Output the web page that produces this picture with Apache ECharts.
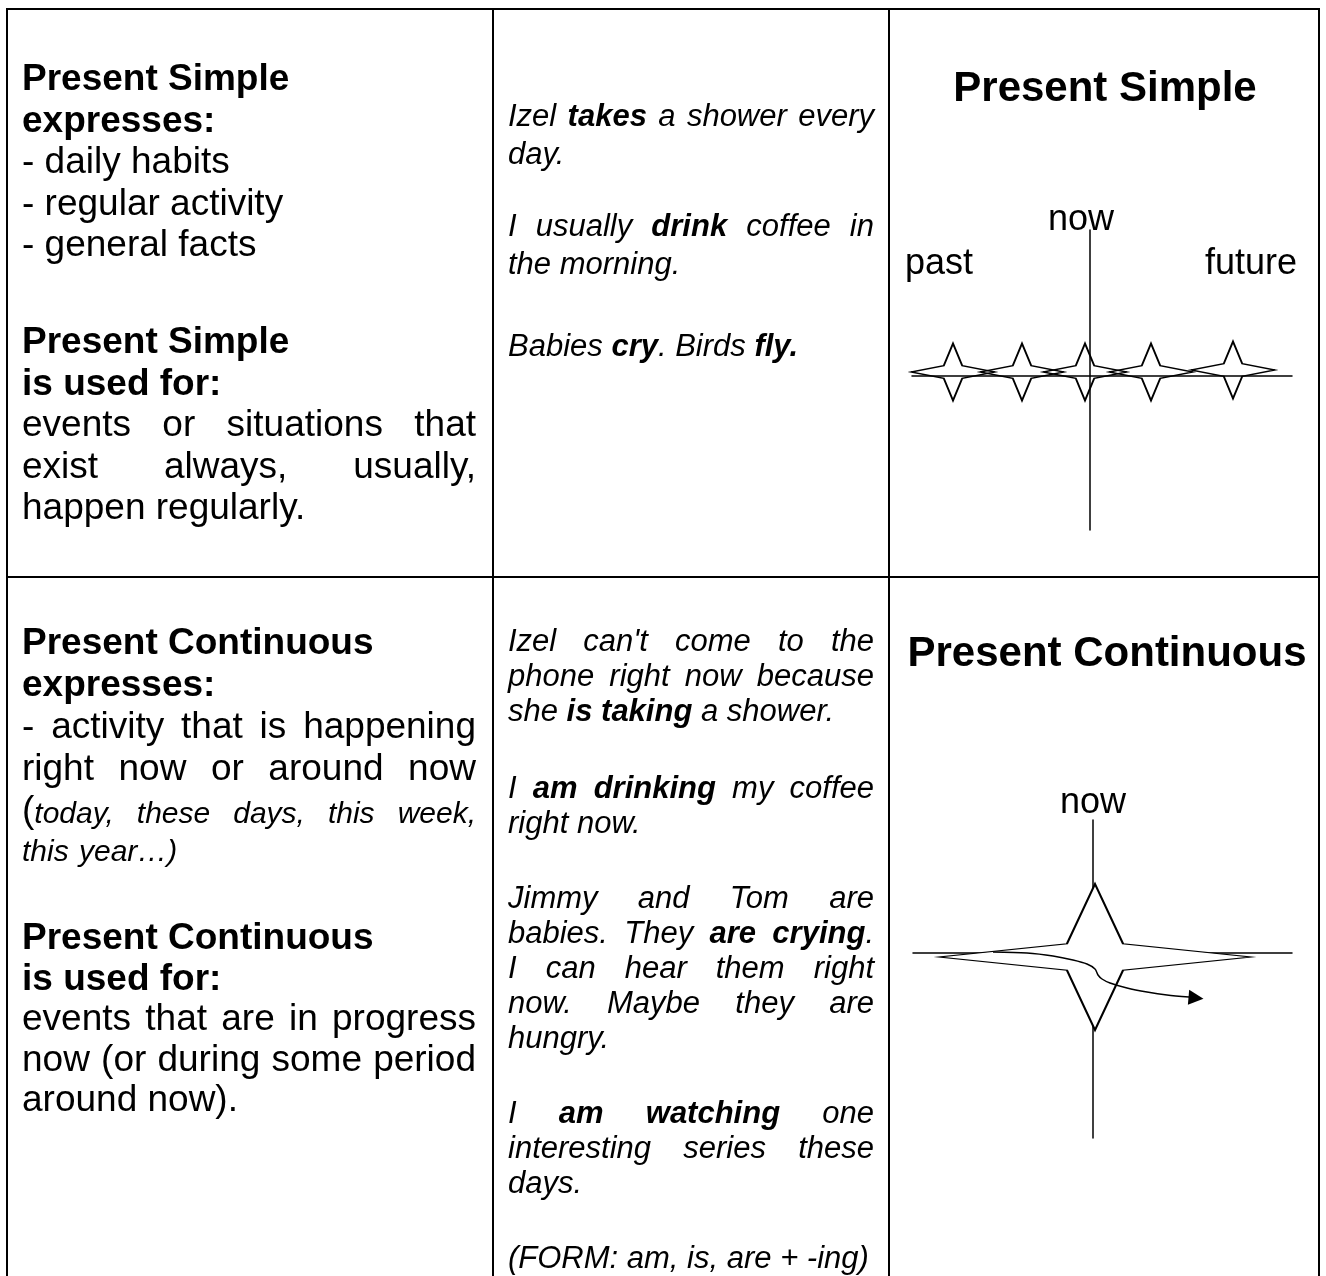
<!DOCTYPE html>
<html>
<head>
<meta charset="utf-8">
<script src="https://cdn.jsdelivr.net/npm/echarts@6/dist/echarts.min.js"></script>
<style>
  html, body { margin: 0; padding: 0; background: #fff; }
  #main { width: 1326px; height: 1276px; }
</style>
</head>
<body>
<div id="main"></div>
<script>
// cell texts: '*' toggles bold, '_' toggles italic, null starts a new block
var simpleNotes = [
  ['*Present Simple*'], ['*expresses:*'],
  ['- daily habits'], ['- regular activity'], ['- general facts'],
  null,
  ['*Present Simple*'], ['*is used for:*'],
  ['events or situations that', 'exist always, usually,', 'happen regularly.']
]
var continuousNotes = [
  ['*Present Continuous*'], ['*expresses:*'],
  ['- activity that is happening', 'right now or around now', '(_today, these days, this week,_', '_this year\u2026)_'],
  null,
  ['*Present Continuous*'], ['*is used for:*'],
  ['events that are in progress', 'now (or during some period', 'around now).']
]
var simpleExamples = [
  ['Izel *takes* a shower every', 'day.'],
  null,
  ['I usually *drink* coffee in', 'the morning.'],
  null,
  ['Babies *cry*. Birds *fly.*']
]
var continuousExamples = [
  ["Izel can't come to the", 'phone right now because', 'she *is taking* a shower.'],
  null,
  ['I *am drinking* my coffee', 'right now.'],
  null,
  ['Jimmy and Tom are', 'babies. They *are crying*.', 'I can hear them right', 'now. Maybe they are', 'hungry.'],
  null,
  ['I *am watching* one', 'interesting series these', 'days.'],
  null,
  ['(FORM: am, is, are + -ing)']
]
var cellTitles = ['Present Simple', 'Present Continuous']

// timeline diagrams, values relative to "now"
var simpleStarX = [-137, -68, -5, 61, 143]
var simpleStarY = [4, 4, 4, 4, 6]
var simpleLabelNames = ['past', 'now', 'future']
var simpleLabelX = [-151, -9, 161]
var simpleLabelY = [112, 156, 112]

var continuousStarX = [2]
var continuousStarY = [-4]
var continuousLabelNames = ['now']
var continuousLabelX = [0]
var continuousLabelY = [150]
var arrowX = [-100, -66, -40, -20, -6, 2, 5, 9, 17, 34, 54, 74, 96]
var arrowY = [1, 0, -3, -7, -11, -16, -22, -26, -30, -35, -39, -42, -44]
var arrowHeadX = [103]
var arrowHeadY = [-45]

var FONT = '"Liberation Sans", Arial, sans-serif'
var SMALL_STAR = 'path://M0,-100L22,-22L100,0L22,22L0,100L-22,22L-100,0L-22,-22Z'
var BIG_STAR = 'path://M0,-100L18,-18L100,0L18,18L0,100L-18,18L-100,0L-18,-18Z'
var ctx = document.createElement('canvas').getContext('2d')

function measure(t, f) {
  ctx.font = f.style + ' ' + f.weight + ' ' + f.size + 'px ' + FONT
  return ctx.measureText(t).width
}

function parseLine(line, italic) {
  var segs = [], b = false, i = italic, cur = ''
  for (var k = 0; k < line.length; k++) {
    var ch = line[k]
    if (ch === '*' || ch === '_') {
      if (cur) segs.push({ t: cur, b: b, i: i })
      cur = ''
      if (ch === '*') b = !b
      else i = !i
    } else cur += ch
  }
  if (cur) segs.push({ t: cur, b: b, i: i })
  return segs
}

function toWords(segs) {
  var words = [[]]
  segs.forEach(function (s) {
    s.t.split(' ').forEach(function (part, k) {
      if (k > 0) words.push([])
      if (part) words[words.length - 1].push({ t: part, b: s.b, i: s.i })
    })
  })
  return words.filter(function (w) { return w.length })
}

// lays out one table cell, justifying every line of a paragraph but its last
function textCell(paras, cfg) {
  var out = [], group = 0, y = 0, first = true
  var space = measure(' ', { size: cfg.size, style: cfg.italic ? 'italic' : 'normal', weight: 'normal' })

  paras.forEach(function (p) {
    if (p === null) { group++; first = true; return }
    p.forEach(function (line, li) {
      var words = toWords(parseLine(line, cfg.italic))
      var maxSize = 0, total = 0
      words.forEach(function (w) {
        w.forEach(function (s) {
          s.f = {
            size: (s.i && !cfg.italic) ? cfg.italicSize : cfg.size,
            style: s.i ? 'italic' : 'normal',
            weight: s.b ? 'bold' : 'normal'
          }
          s.w = measure(s.t, s.f)
          maxSize = Math.max(maxSize, s.f.size)
          total += s.w
        })
      })
      var step = Array.isArray(cfg.step) ? cfg.step[group] : cfg.step
      if (first) y = cfg.starts[group]
      else y += maxSize < cfg.size ? cfg.italicStep : step
      first = false

      var gap = space
      if (li < p.length - 1 && words.length > 1)
        gap = (cfg.width - total) / (words.length - 1)

      var x = cfg.x
      words.forEach(function (w) {
        w.forEach(function (s) {
          out.push({
            type: 'text', x: x, y: y - 0.3465 * s.f.size, silent: true,
            style: {
              text: s.t, fill: '#000', fontSize: s.f.size, fontStyle: s.f.style,
              fontWeight: s.f.weight, fontFamily: FONT, align: 'left', verticalAlign: 'middle'
            }
          })
          x += s.w
        })
        x += gap
      })
    })
  })
  return out
}

function tableLines() {
  var colX = [7, 493, 889, 1319], rowY = [9, 577]
  var out = []
  colX.forEach(function (x) {
    out.push({ type: 'line', silent: true, shape: { x1: x, y1: 8, x2: x, y2: 1290 }, style: { stroke: '#000', lineWidth: 2 } })
  })
  rowY.forEach(function (y) {
    out.push({ type: 'line', silent: true, shape: { x1: 6, y1: y, x2: 1320, y2: y }, style: { stroke: '#000', lineWidth: 2 } })
  })
  return out
}

function titleText(text, x, baseline) {
  return {
    type: 'text', x: x, y: baseline - 0.3465 * 42, silent: true,
    style: { text: text, fill: '#000', fontSize: 42, fontWeight: 'bold', fontFamily: FONT, align: 'center', verticalAlign: 'middle' }
  }
}

var elements = tableLines()
  .concat(textCell(simpleNotes, { x: 22, width: 454, starts: [93, 356], step: 41.5, size: 37, italicSize: 30, italicStep: 38, italic: false }))
  .concat(textCell(continuousNotes, { x: 22, width: 454, starts: [657, 952], step: [42, 40.5], size: 37, italicSize: 30, italicStep: 38, italic: false }))
  .concat(textCell(simpleExamples, { x: 508, width: 366, starts: [128, 238, 358], step: 38, size: 31, italic: true }))
  .concat(textCell(continuousExamples, { x: 508, width: 366, starts: [653, 800, 910, 1125, 1270], step: 35, size: 31, italic: true }))
  .concat([titleText(cellTitles[0], 1105, 104), titleText(cellTitles[1], 1107, 669)])

function axis(gridIndex, min, max) {
  return {
    type: 'value', gridIndex: gridIndex, min: min, max: max,
    axisLine: { show: true, onZero: true, lineStyle: { color: '#000', width: 1.5 } },
    axisTick: { show: false }, axisLabel: { show: false }, splitLine: { show: false }
  }
}

function pairs(xs, ys) {
  return xs.map(function (x, i) { return [x, ys[i]] })
}

function labelSeries(idx, names, xs, ys) {
  return {
    type: 'scatter', xAxisIndex: idx, yAxisIndex: idx, silent: true, clip: false,
    symbolSize: 0,
    itemStyle: { opacity: 1 },
    data: names.map(function (n, i) { return { name: n, value: [xs[i], ys[i]] } }),
    label: { show: true, position: 'inside', formatter: '{b}', color: '#000', opacity: 1, fontSize: 36, fontFamily: FONT }
  }
}

var chart = echarts.init(document.getElementById('main'))

chart.setOption({
  animation: false,
  backgroundColor: '#fff',
  grid: [
    { left: 912, top: 230, width: 380, height: 300, outerBoundsMode: 'none' },
    { left: 913, top: 820, width: 379, height: 318, outerBoundsMode: 'none' }
  ],
  xAxis: [axis(0, -178, 202), axis(1, -180, 199)],
  yAxis: [axis(0, -154, 146), axis(1, -185, 133)],
  series: [
    {
      type: 'scatter', xAxisIndex: 0, yAxisIndex: 0, silent: true, clip: false,
      symbol: SMALL_STAR, symbolSize: [84, 57],
      itemStyle: { color: 'rgba(255,255,255,0)', borderColor: '#000', borderWidth: 1.6, opacity: 1 },
      data: pairs(simpleStarX, simpleStarY)
    },
    labelSeries(0, simpleLabelNames, simpleLabelX, simpleLabelY),
    {
      type: 'scatter', xAxisIndex: 1, yAxisIndex: 1, silent: true, clip: false, z: 3,
      symbol: BIG_STAR, symbolSize: [312, 146],
      itemStyle: { color: '#fff', borderColor: '#000', borderWidth: 1.6, opacity: 1 },
      data: pairs(continuousStarX, continuousStarY)
    },
    labelSeries(1, continuousLabelNames, continuousLabelX, continuousLabelY),
    {
      type: 'line', xAxisIndex: 1, yAxisIndex: 1, silent: true, z: 4,
      smooth: 0.3, showSymbol: false, symbol: 'none',
      lineStyle: { color: '#000', width: 1.5 },
      data: pairs(arrowX, arrowY)
    },
    {
      type: 'scatter', xAxisIndex: 1, yAxisIndex: 1, silent: true, z: 4, clip: false,
      symbol: 'triangle', symbolSize: 15, symbolRotate: -95,
      itemStyle: { color: '#000', opacity: 1 },
      data: pairs(arrowHeadX, arrowHeadY)
    }
  ],
  graphic: { elements: elements }
})
</script>
</body>
</html>
